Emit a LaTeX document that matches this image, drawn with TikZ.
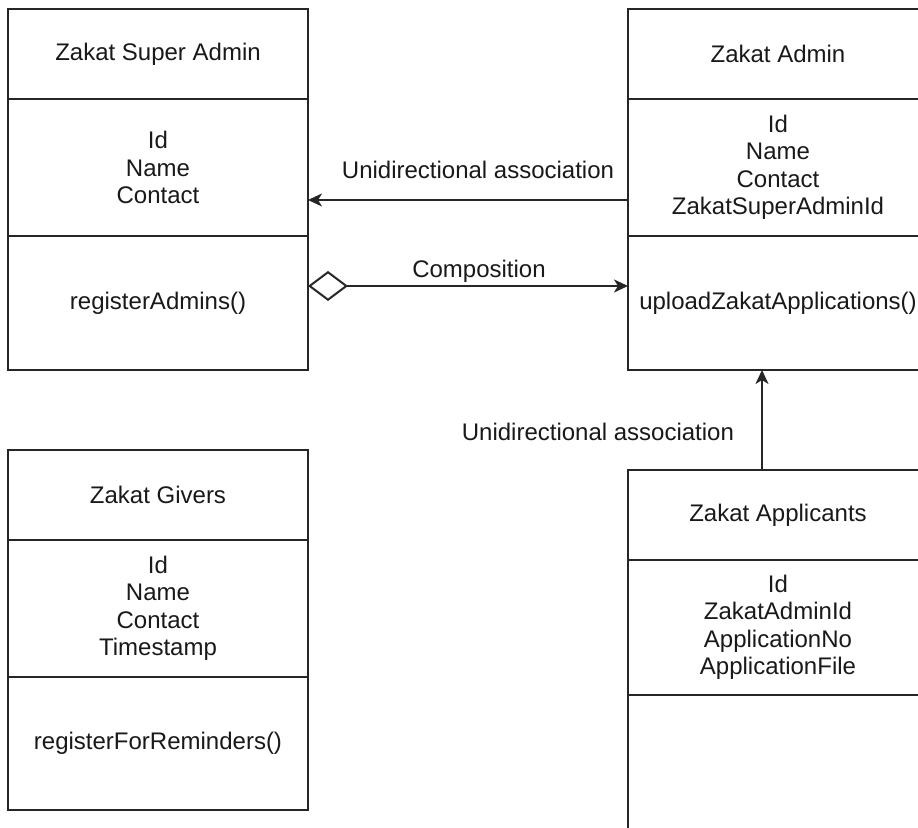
\documentclass[tikz,border=0pt]{standalone}
\usepackage{fontspec}
\setmainfont{Liberation Sans}
\usetikzlibrary{arrows.meta}
\begin{document}
\begin{tikzpicture}[x=0.5pt,y=-0.5pt,
  part/.style={draw=black!85, line width=1pt, minimum width=150pt,
    inner sep=0pt, outer sep=0pt, anchor=north west, align=center,
    font=\fontsize{12}{13.75}\selectfont, text=black!90},
  lbl/.style={font=\fontsize{12}{13.75}\selectfont, text=black!90, inner sep=0pt},
  assoc/.style={draw=black!85, line width=1pt,
    -{Stealth[length=7pt,width=6.5pt,inset=2pt]}},
  compo/.style={draw=black!85, line width=1pt,
    {Diamond[open,fill=white,length=20pt,width=15pt]}-{Stealth[length=7pt,width=6.5pt,inset=2pt]}}
]
\useasboundingbox (0,0) rectangle (918,828);
\clip (0,0) rectangle (918,828);
\fill[white] (0,0) rectangle (918,828);

% Zakat Super Admin
\node[part, minimum height=45pt]   (sa-title) at (8,9)   {Zakat Super Admin};
\node[part, minimum height=68.5pt] (sa-attr)  at (8,99)  {Id\\Name\\Contact};
\node[part, minimum height=67pt]   (sa-ops)   at (8,236) {registerAdmins()};

% Zakat Admin
\node[part, minimum height=45pt]   (za-title) at (628,9)   {Zakat Admin};
\node[part, minimum height=68.5pt] (za-attr)  at (628,99)  {Id\\Name\\Contact\\ZakatSuperAdminId};
\node[part, minimum height=67pt]   (za-ops)   at (628,236) {uploadZakatApplications()};

% Zakat Givers
\node[part, minimum height=45pt]   (zg-title) at (8,450) {Zakat Givers};
\node[part, minimum height=68.5pt] (zg-attr)  at (8,540) {Id\\Name\\Contact\\Timestamp};
\node[part, minimum height=66.5pt] (zg-ops)   at (8,677) {registerForReminders()};

% Zakat Applicants
\node[part, minimum height=45pt]   (ap-title) at (628,470) {Zakat Applicants};
\node[part, minimum height=67.5pt] (ap-attr)  at (628,560) {Id\\ZakatAdminId\\ApplicationNo\\ApplicationFile};
\node[part, minimum height=100pt]  (ap-ops)   at (628,695) {};

% Connectors
\draw[assoc] ([yshift=-16.25pt]za-attr.west) -- ([yshift=-16.25pt]sa-attr.east)
  node[lbl, midway, above=10pt, xshift=5pt] (lbl-a) {Unidirectional association};
\draw[compo] ([yshift=8.5pt]sa-ops.east) -- ([yshift=8.5pt]za-ops.west)
  node[lbl, midway, above=1.5pt, xshift=5.5pt] (lbl-c) {Composition};
\draw[assoc] ([xshift=-8pt]ap-title.north) -- ([xshift=-8pt]za-ops.south)
  node[lbl, midway, anchor=east, xshift=-13.5pt, yshift=-6pt] (lbl-b) {Unidirectional association};
\end{tikzpicture}
\end{document}
